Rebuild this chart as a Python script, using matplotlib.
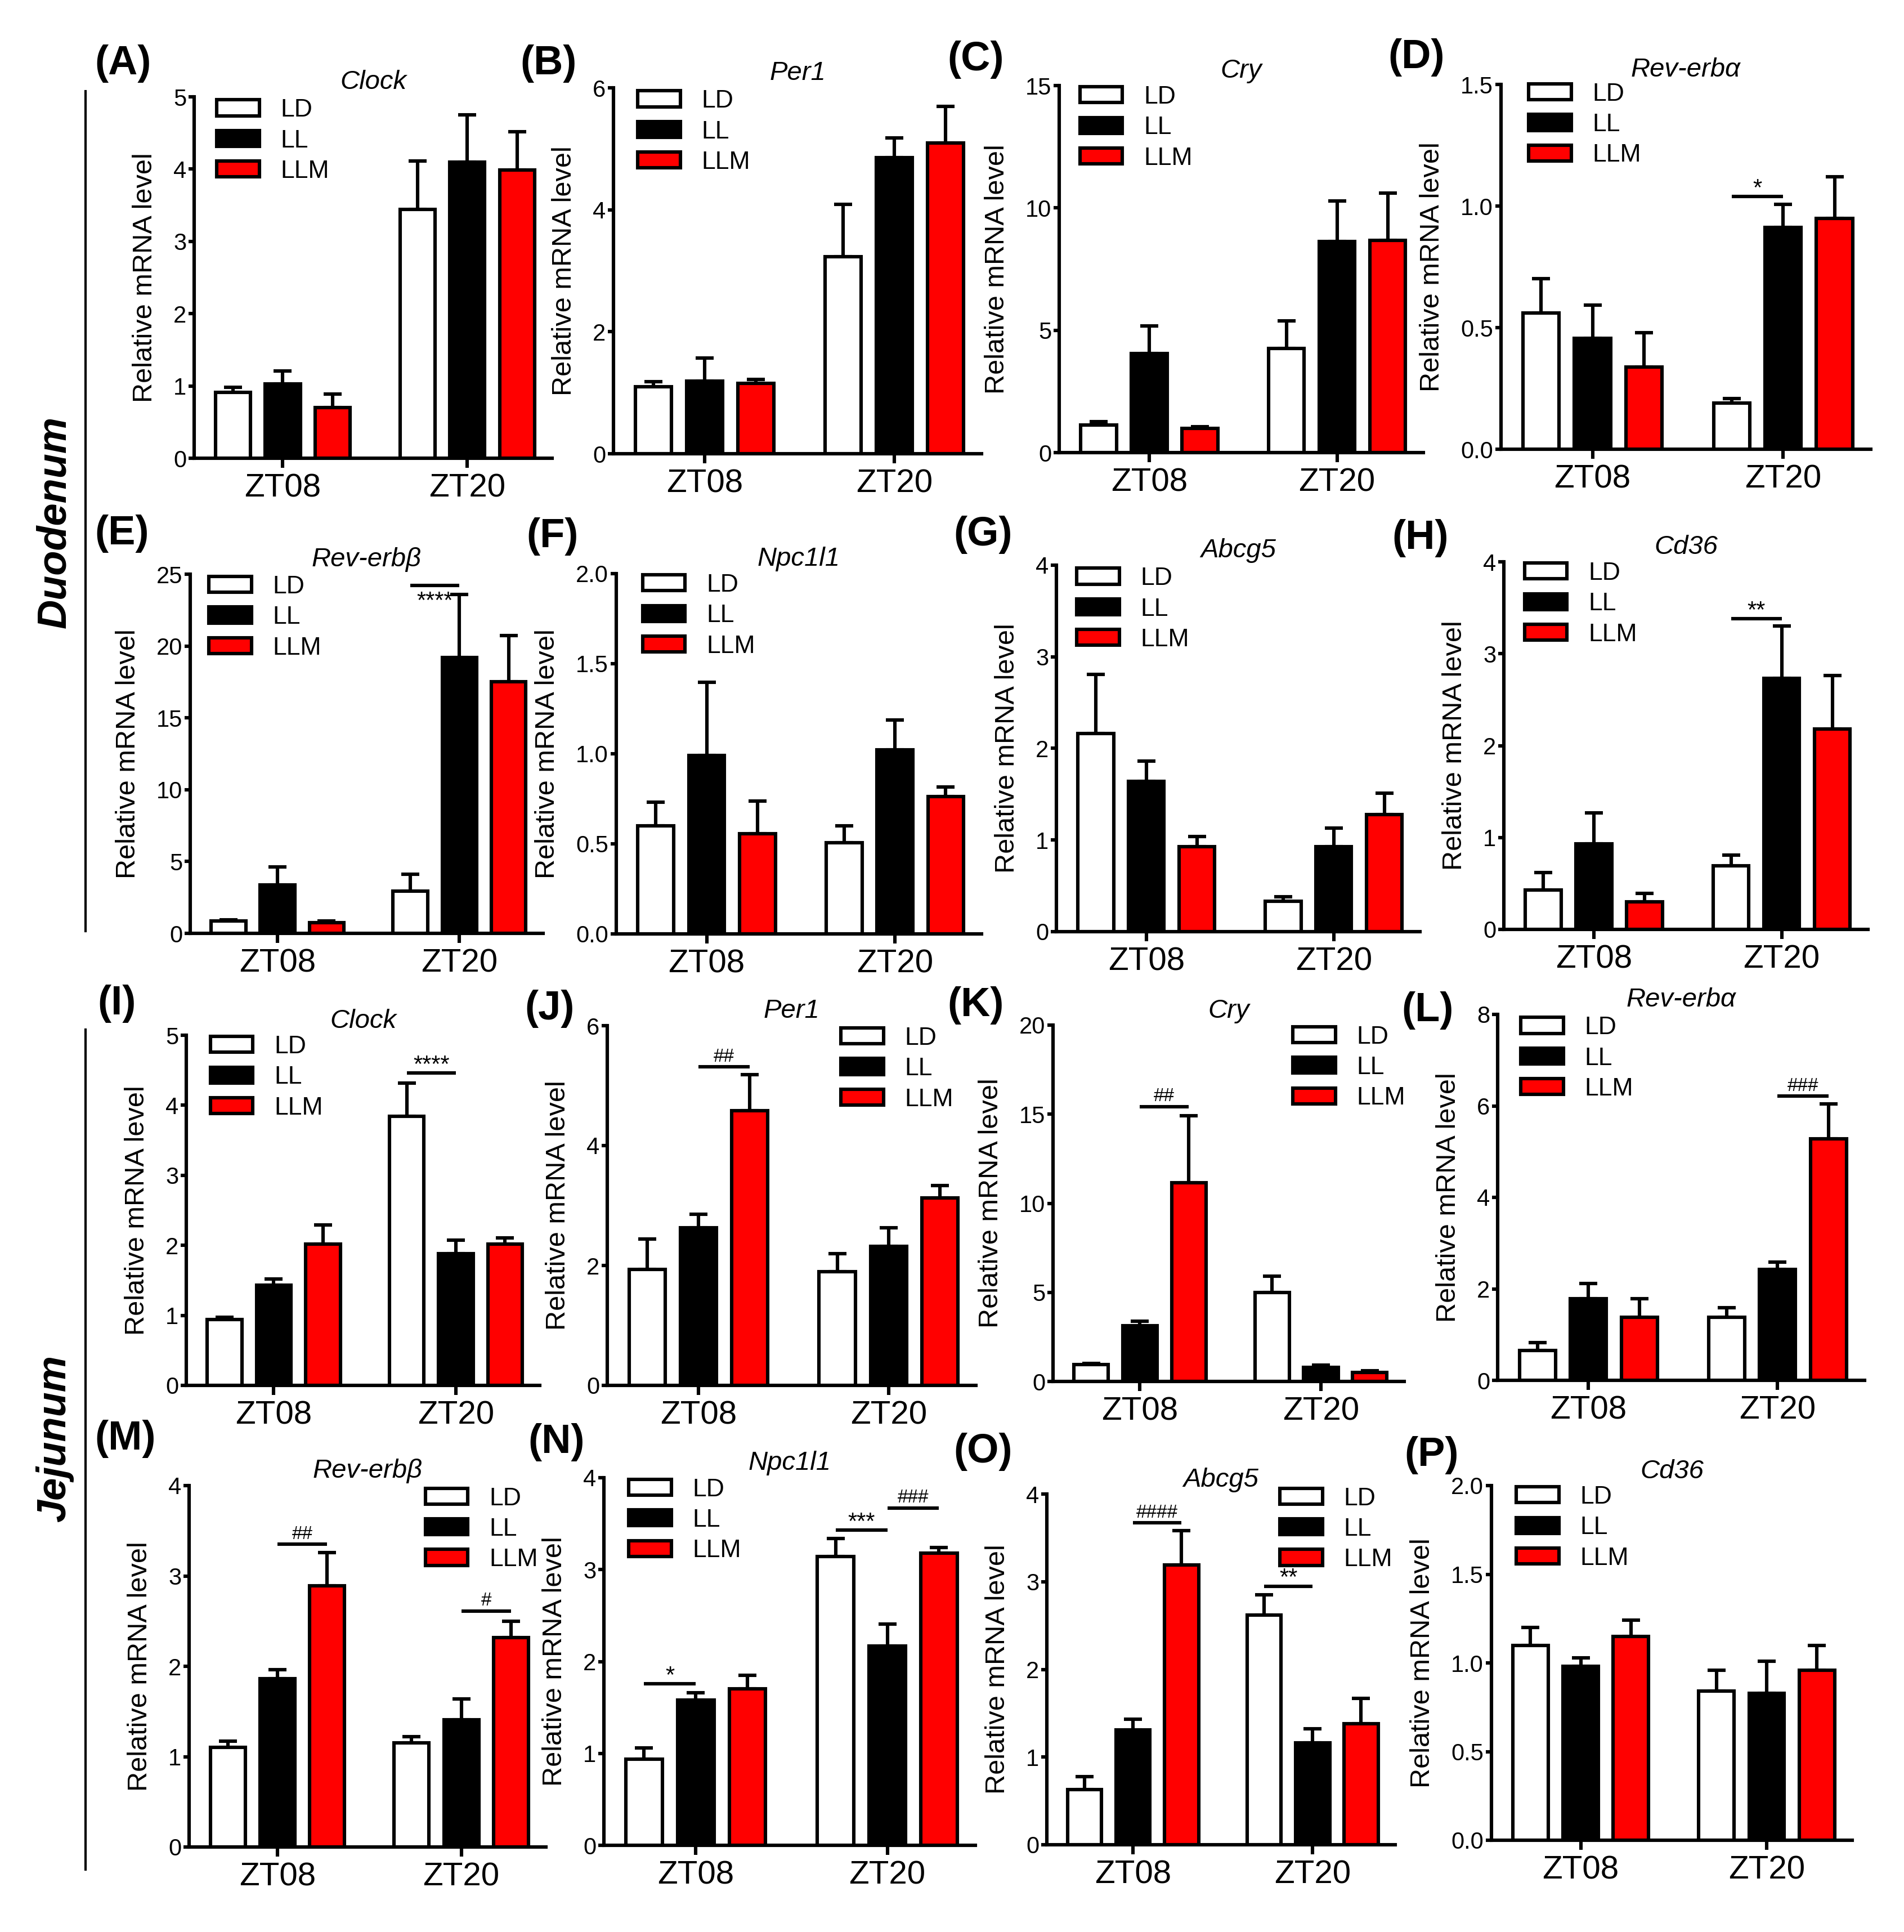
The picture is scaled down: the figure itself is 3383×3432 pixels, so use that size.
import matplotlib
matplotlib.use('Agg')
import matplotlib.pyplot as plt
from matplotlib.patches import Patch
from matplotlib.lines import Line2D
from matplotlib import font_manager

# ---- data (LD, LL, LLM) x (ZT08, ZT20) ----
groups = ['ZT08', 'ZT20']
conditions = ['LD', 'LL', 'LLM']
colors = ['white', 'black', '#ff0000']

a_mean = [[0.91, 3.44], [1.03, 4.10], [0.70, 3.99]]
a_err = [[0.07, 0.67], [0.18, 0.65], [0.19, 0.53]]
b_mean = [[1.10, 3.23], [1.19, 4.86], [1.15, 5.10]]
b_err = [[0.08, 0.86], [0.38, 0.32], [0.07, 0.60]]
c_mean = [[1.12, 4.26], [4.06, 8.62], [0.99, 8.68]]
c_err = [[0.14, 1.12], [1.12, 1.66], [0.07, 1.93]]
d_mean = [[0.561, 0.189], [0.455, 0.911], [0.339, 0.948]]
d_err = [[0.141, 0.020], [0.137, 0.097], [0.140, 0.173]]
e_mean = [[0.86, 2.95], [3.38, 19.19], [0.74, 17.50]]
e_err = [[0.09, 1.15], [1.26, 4.39], [0.12, 3.22]]
f_mean = [[0.601, 0.506], [0.990, 1.022], [0.556, 0.762]]
f_err = [[0.131, 0.095], [0.406, 0.165], [0.183, 0.054]]
g_mean = [[2.16, 0.33], [1.64, 0.93], [0.93, 1.28]]
g_err = [[0.65, 0.05], [0.22, 0.20], [0.11, 0.23]]
h_mean = [[0.43, 0.69], [0.93, 2.73], [0.30, 2.18]]
h_err = [[0.19, 0.12], [0.34, 0.57], [0.09, 0.58]]
i_mean = [[0.94, 3.84], [1.43, 1.88], [2.02, 2.02]]
i_err = [[0.03, 0.48], [0.09, 0.19], [0.27, 0.09]]
j_mean = [[1.93, 1.90], [2.63, 2.32], [4.58, 3.13]]
j_err = [[0.51, 0.30], [0.22, 0.31], [0.60, 0.20]]
k_mean = [[0.96, 5.00], [3.14, 0.78], [11.15, 0.51]]
k_err = [[0.06, 0.91], [0.23, 0.13], [3.77, 0.09]]
l_mean = [[0.65, 1.38], [1.79, 2.42], [1.38, 5.28]]
l_err = [[0.18, 0.21], [0.33, 0.17], [0.41, 0.76]]
m_mean = [[1.10, 1.15], [1.86, 1.41], [2.89, 2.32]]
m_err = [[0.07, 0.07], [0.10, 0.23], [0.37, 0.18]]
n_mean = [[0.94, 3.14], [1.58, 2.17], [1.70, 3.18]]
n_err = [[0.12, 0.20], [0.08, 0.24], [0.15, 0.06]]
o_mean = [[0.63, 2.62], [1.31, 1.16], [3.19, 1.38]]
o_err = [[0.15, 0.23], [0.12, 0.16], [0.39, 0.29]]
p_mean = [[1.10, 0.84], [0.98, 0.83], [1.15, 0.96]]
p_err = [[0.10, 0.12], [0.05, 0.18], [0.09, 0.14]]

genes = ['Clock', 'Per1', 'Cry', 'Rev-erbα', 'Rev-erbβ', 'Npc1l1', 'Abcg5', 'Cd36']
letters = list('ABCDEFGHIJKLMNOP')
ymax = [5, 6, 15, 1.5, 25, 2.0, 4, 4, 5, 6, 20, 8, 4, 4, 4, 2.0]
ystep = [1, 2, 5, 0.5, 5, 0.5, 1, 1, 1, 2, 5, 2, 1, 1, 1, 0.5]

# significance: (label, group, bar1, bar2, y)
sig_d = [('*', 1, 0, 1, 1.04)]
sig_e = [('****', 1, 0, 1, 24.2)]
sig_h = [('**', 1, 0, 1, 3.38)]
sig_i = [('****', 1, 0, 1, 4.46)]
sig_j = [('##', 0, 1, 2, 5.31)]
sig_k = [('##', 0, 1, 2, 15.43)]
sig_l = [('###', 1, 1, 2, 6.21)]
sig_m = [('##', 0, 1, 2, 3.35), ('#', 1, 1, 2, 2.61)]
sig_n = [('*', 0, 0, 1, 1.76), ('***', 1, 0, 1, 3.43), ('###', 1, 1, 2, 3.67)]
sig_o = [('####', 0, 1, 2, 3.67), ('**', 1, 0, 1, 2.95)]

means = [a_mean, b_mean, c_mean, d_mean, e_mean, f_mean, g_mean, h_mean,
         i_mean, j_mean, k_mean, l_mean, m_mean, n_mean, o_mean, p_mean]
errs = [a_err, b_err, c_err, d_err, e_err, f_err, g_err, h_err,
        i_err, j_err, k_err, l_err, m_err, n_err, o_err, p_err]
sigs = [[], [], [], sig_d, sig_e, [], [], sig_h,
        sig_i, sig_j, sig_k, sig_l, sig_m, sig_n, sig_o, []]

# ---- layout (pixels of the 3383x3432 canvas) ----
W, H = 3383, 3432
boxes = [(345, 981, 814, 172), (1090, 1744, 806, 156), (1882, 2529, 804, 152), (2667, 3324, 798, 150),
         (338, 965, 1658, 1020), (1095, 1744, 1659, 1019), (1877, 2523, 1655, 1004), (2672, 3319, 1651, 998),
         (331, 959, 2461, 1839), (1079, 1734, 2461, 1822), (1871, 2495, 2454, 1821), (2661, 3313, 2452, 1802),
         (336, 970, 3281, 2639), (1073, 1733, 3278, 2625), (1860, 2479, 3277, 2654), (2650, 3291, 3269, 2639)]
leg_pos = [(0.063, 0.995), (0.066, 0.995), (0.057, 1.0), (0.075, 1.005),
           (0.053, 0.997), (0.072, 1.0), (0.056, 0.995), (0.057, 1.0),
           (0.068, 1.0), (0.634, 0.997), (0.683, 0.999), (0.063, 0.995),
           (0.662, 0.996), (0.067, 0.999), (0.669, 1.02), (0.069, 1.0)]
label_pos = [(168, 113), (924, 113), (1683, 106), (2466, 102),
             (168, 948), (935, 953), (1694, 950), (2473, 956),
             (173, 1783), (932, 1792), (1683, 1786), (2490, 1795),
             (168, 2556), (938, 2562), (1694, 2579), (2495, 2585)]

names = {f.name for f in font_manager.fontManager.ttflist}
NARROW = 'Liberation Sans Narrow' if 'Liberation Sans Narrow' in names else 'Liberation Sans'
plt.rcParams['font.family'] = ['Liberation Sans', 'DejaVu Sans']
narrow = [NARROW, 'Liberation Sans', 'DejaVu Sans']

offsets = [-0.27, 0.0, 0.27]
bw = 0.19
LW = 2.2

fig = plt.figure(figsize=(W / 200, H / 200), dpi=200)

for k in range(16):
    left, right, base, top = boxes[k]
    ax = fig.add_axes([left / W, 1 - base / H, (right - left) / W, (base - top) / H])
    for c in range(3):
        xs = [g + offsets[c] for g in range(2)]
        ax.bar(xs, means[k][c], width=bw, color=colors[c], edgecolor='black',
               linewidth=LW, zorder=2)
        ax.errorbar(xs, means[k][c], yerr=[[0, 0], errs[k][c]], fmt='none',
                    ecolor='black', elinewidth=LW, capsize=5.8, capthick=LW, zorder=1)
    ax.set_xlim(-0.48, 1.46)
    ax.set_ylim(0, ymax[k])
    n = int(round(ymax[k] / ystep[k]))
    ticks = [i * ystep[k] for i in range(n + 1)]
    ax.set_yticks(ticks)
    if ystep[k] < 1:
        ax.set_yticklabels(['%.1f' % t for t in ticks])
    else:
        ax.set_yticklabels(['%d' % t for t in ticks])
    ax.set_xticks([0, 1])
    ax.set_xticklabels(groups)
    for s in ['top', 'right']:
        ax.spines[s].set_visible(False)
    for s in ['left', 'bottom']:
        ax.spines[s].set_linewidth(LW)
    ax.tick_params(axis='x', length=6, width=LW, pad=3.5, labelsize=21)
    ax.tick_params(axis='y', length=3.5, width=LW, pad=1.5, labelsize=15)
    for t in ax.get_xticklabels() + ax.get_yticklabels():
        t.set_family(narrow)
    ax.set_ylabel('Relative mRNA level', fontsize=17.5, labelpad=10)
    ax.text(0.5, 1.04, genes[k % 8], transform=ax.transAxes, ha='center', va='center',
            fontsize=17, style='italic', family=narrow)

    handles = [Patch(facecolor=colors[c], edgecolor='black', linewidth=LW) for c in range(3)]
    ax.legend(handles, conditions, loc='upper left', bbox_to_anchor=leg_pos[k],
              frameon=False, borderpad=0, borderaxespad=0, handlelength=1.7,
              handleheight=0.6, handletextpad=0.85, labelspacing=0.3,
              prop={'family': narrow, 'size': 16})

    for lab, g, b1, b2, y in sigs[k]:
        x1, x2 = g + offsets[b1], g + offsets[b2]
        ax.plot([x1, x2], [y, y], color='black', lw=LW, clip_on=False,
                solid_capstyle='butt', zorder=6)
        is_hash = '#' in lab
        fs = 12 if is_hash else 15
        if letters[k] == 'E':
            ax.annotate(lab, ((x1 + x2) / 2, y), xytext=(0, -3), textcoords='offset points',
                        ha='center', va='top', fontsize=fs, family=narrow, zorder=7)
        else:
            dy = 1 if is_hash else -2.5
            ax.annotate(lab, ((x1 + x2) / 2, y), xytext=(0, dy), textcoords='offset points',
                        ha='center', va='bottom', fontsize=fs, family=narrow, zorder=7)

    lx, ly = label_pos[k]
    fig.text(lx / W, 1 - ly / H, '(%s)' % letters[k], ha='left', va='center',
             fontsize=26, fontweight='bold', family=narrow)

fig.text(97 / W, 1 - 927 / H, 'Duodenum', rotation=90, ha='center', va='center',
         fontsize=26, fontweight='bold', style='italic')
fig.text(97 / W, 1 - 2555 / H, 'Jejunum', rotation=90, ha='center', va='center',
         fontsize=26, fontweight='bold', style='italic')
fig.add_artist(Line2D([152 / W, 152 / W], [1 - 162 / H, 1 - 1654 / H], color='black', lw=1.5))
fig.add_artist(Line2D([152 / W, 152 / W], [1 - 1829 / H, 1 - 3321 / H], color='black', lw=1.5))

fig.savefig('out.png', dpi=200, facecolor='white')
